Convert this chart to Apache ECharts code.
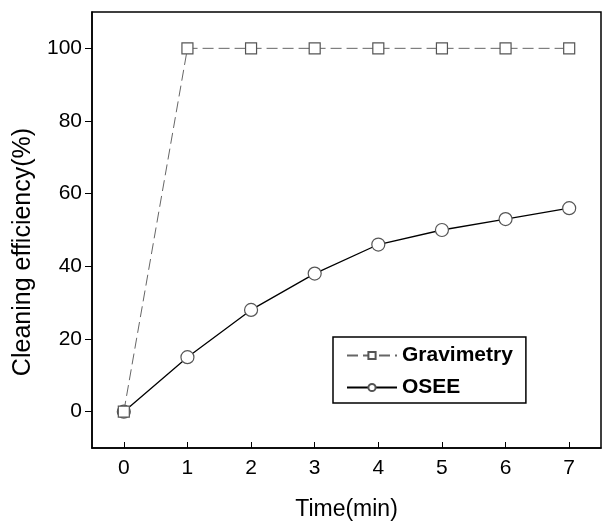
<!DOCTYPE html>
<html>
<head>
<meta charset="utf-8">
<script src="https://cdn.jsdelivr.net/npm/echarts@6/dist/echarts.min.js"></script>
<style>
  html, body { margin: 0; padding: 0; background: #fff; }
  #main { width: 605px; height: 527px; }
</style>
</head>
<body>
<div id="main"></div>
<script>
// data
const times = [0, 1, 2, 3, 4, 5, 6, 7];
const gravimetry = [0, 100, 100, 100, 100, 100, 100, 100];
const osee = [0, 15, 28, 38, 46, 50, 53, 56];
const yTicks = [0, 20, 40, 60, 80, 100];

const font = 'Liberation Sans, Arial, sans-serif';
const chart = echarts.init(document.getElementById('main'));

const option = {
  backgroundColor: '#fff',
  animation: false,
  grid: { left: 92, right: 4, top: 12, bottom: 79, show: true, borderColor: '#000', borderWidth: 1.5 },
  xAxis: {
    type: 'value', min: -0.5, max: 7.5,
    name: 'Time(min)', nameLocation: 'middle', nameGap: 50,
    nameTextStyle: { fontFamily: font, fontSize: 23, color: '#000' },
    axisLine: { onZero: false, lineStyle: { color: '#000', width: 1.5 } },
    axisTick: { inside: true, length: 6, customValues: times, lineStyle: { color: '#000' } },
    axisLabel: { customValues: times, fontFamily: font, fontSize: 21, color: '#000', margin: 10 },
    splitLine: { show: false }
  },
  yAxis: {
    type: 'value', min: -10, max: 110,
    name: 'Cleaning efficiency(%)', nameLocation: 'middle', nameGap: 54,
    // label sits a bit below the middle of the axis in the original
    nameTextStyle: { fontFamily: font, fontSize: 25, color: '#000', padding: [0, 44, 0, 0] },
    axisLine: { show: true, onZero: false, lineStyle: { color: '#000', width: 1.5 } },
    axisTick: { inside: false, length: 7, customValues: yTicks, lineStyle: { color: '#000' } },
    axisLabel: { customValues: yTicks, fontFamily: font, fontSize: 21, color: '#000', margin: 10 },
    splitLine: { show: false }
  },
  legend: {
    orient: 'vertical', left: 333, top: 337,
    padding: [8, 13, 5, 13], itemGap: 11, itemWidth: 50, itemHeight: 9,
    borderColor: '#000', borderWidth: 1.5, backgroundColor: '#fff',
    textStyle: { fontFamily: font, fontSize: 21, fontWeight: 'bold', color: '#000' },
    data: ['Gravimetry', 'OSEE']
  },
  series: [
    {
      name: 'Gravimetry', type: 'line',
      data: times.map((t, i) => [t, gravimetry[i]]),
      symbol: 'rect', symbolSize: 11,
      lineStyle: { color: '#666', width: 1, type: [11, 5] },
      itemStyle: { color: '#fff', borderColor: '#555', borderWidth: 1.2 },
      z: 3
    },
    {
      name: 'OSEE', type: 'line',
      data: times.map((t, i) => [t, osee[i]]),
      symbol: 'circle', symbolSize: 13,
      lineStyle: { color: '#000', width: 1.3 },
      itemStyle: { color: '#fff', borderColor: '#555', borderWidth: 1.2 },
      z: 2
    }
  ]
};

chart.setOption(option);
</script>
</body>
</html>
